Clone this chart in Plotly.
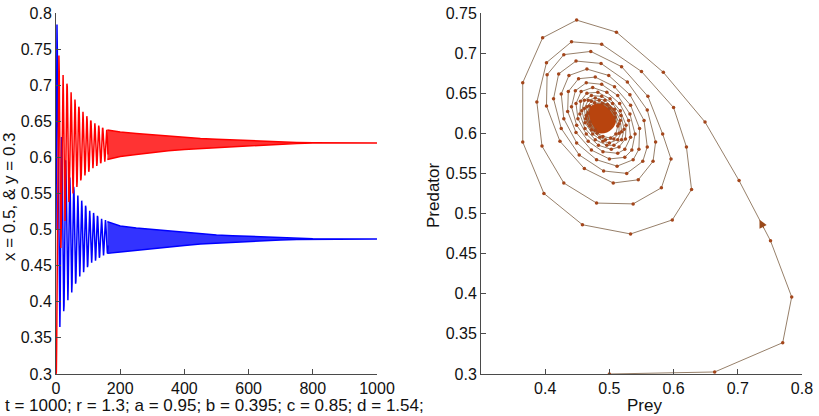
import plotly.graph_objects as go

# ---- phase trajectory (prey x, predator y) read /, t = 0 .. 162 ----
prey = [
    0.500, 0.664, 0.770, 0.784, 0.751, 0.702, 0.649, 0.584, 0.511, 0.449, 0.396, 0.365, 0.365, 0.398, 0.458, 0.533, 0.598, 0.628, 0.620,
    0.600, 0.550, 0.488, 0.441, 0.402, 0.387, 0.395, 0.429, 0.480, 0.537, 0.581, 0.596,
    0.583, 0.560, 0.519, 0.471, 0.429, 0.403, 0.402, 0.423, 0.461, 0.506, 0.545, 0.568,
    0.572, 0.559, 0.528, 0.487, 0.448, 0.421, 0.413, 0.425, 0.453, 0.491, 0.527, 0.552,
    0.559, 0.554, 0.532, 0.499, 0.465, 0.437, 0.425, 0.429, 0.449, 0.480, 0.512, 0.537,
    0.546, 0.547, 0.533, 0.508, 0.478, 0.452, 0.436, 0.435, 0.448, 0.472, 0.500, 0.524,
    0.535, 0.540, 0.532, 0.513, 0.488, 0.464, 0.447, 0.441, 0.449, 0.467, 0.490, 0.513,
    0.524, 0.533, 0.530, 0.516, 0.496, 0.474, 0.456, 0.448, 0.451, 0.464, 0.483, 0.503,
    0.515, 0.525, 0.526, 0.517, 0.501, 0.482, 0.465, 0.455, 0.454, 0.462, 0.478, 0.496,
    0.507, 0.519, 0.523, 0.518, 0.505, 0.488, 0.472, 0.461, 0.457, 0.462, 0.474, 0.490,
    0.500, 0.513, 0.519, 0.517, 0.508, 0.493, 0.478, 0.467, 0.461, 0.463, 0.472, 0.485,
    0.494, 0.507, 0.515, 0.515, 0.509, 0.497, 0.484, 0.472, 0.465, 0.464, 0.470, 0.481,
    0.490, 0.502, 0.510, 0.513, 0.509, 0.500, 0.489, 0.477, 0.469, 0.467, 0.470, 0.478,
]
predator = [
    0.300, 0.3025, 0.339, 0.396, 0.466, 0.541, 0.614, 0.676, 0.726, 0.741, 0.719, 0.663, 0.589, 0.525, 0.486, 0.4745, 0.492, 0.530, 0.583,
    0.632, 0.677, 0.711, 0.714, 0.688, 0.639, 0.584, 0.538, 0.513, 0.512, 0.532, 0.568,
    0.599, 0.646, 0.683, 0.702, 0.698, 0.673, 0.634, 0.590, 0.556, 0.538, 0.542, 0.565,
    0.589, 0.629, 0.664, 0.687, 0.690, 0.674, 0.643, 0.606, 0.573, 0.553, 0.550, 0.565,
    0.583, 0.616, 0.648, 0.672, 0.680, 0.672, 0.649, 0.618, 0.588, 0.567, 0.559, 0.567,
    0.580, 0.606, 0.635, 0.658, 0.670, 0.668, 0.652, 0.627, 0.601, 0.579, 0.568, 0.570,
    0.579, 0.599, 0.624, 0.647, 0.661, 0.663, 0.653, 0.633, 0.610, 0.590, 0.577, 0.575,
    0.580, 0.595, 0.616, 0.637, 0.651, 0.657, 0.652, 0.637, 0.618, 0.599, 0.585, 0.580,
    0.583, 0.593, 0.610, 0.628, 0.643, 0.651, 0.650, 0.640, 0.624, 0.606, 0.592, 0.585,
    0.585, 0.592, 0.605, 0.622, 0.637, 0.646, 0.647, 0.641, 0.628, 0.613, 0.599, 0.590,
    0.588, 0.592, 0.602, 0.616, 0.630, 0.641, 0.644, 0.641, 0.631, 0.618, 0.604, 0.595,
    0.592, 0.593, 0.600, 0.612, 0.625, 0.636, 0.641, 0.640, 0.633, 0.622, 0.610, 0.600,
    0.596, 0.594, 0.599, 0.609, 0.620, 0.631, 0.637, 0.638, 0.634, 0.625, 0.614, 0.604,
]
steps = list(range(len(prey)))

# ---- oscillation envelopes (t >= 160) ----
env_t = [160, 200, 250, 300, 350, 400, 450, 500, 550, 600, 650, 700, 750, 800, 1000]
red_hi = [0.638, 0.635, 0.633, 0.631, 0.629, 0.627, 0.626, 0.625, 0.624, 0.623, 0.622, 0.621, 0.6207, 0.6203, 0.620]
red_lo = [0.597, 0.601, 0.604, 0.607, 0.609, 0.611, 0.613, 0.614, 0.615, 0.616, 0.617, 0.618, 0.6192, 0.6197, 0.620]
blue_hi = [0.511, 0.505, 0.502, 0.500, 0.498, 0.496, 0.494, 0.4925, 0.4915, 0.4905, 0.4895, 0.4885, 0.4878, 0.4873, 0.487]
blue_lo = [0.467, 0.469, 0.472, 0.474, 0.476, 0.478, 0.480, 0.4815, 0.4825, 0.4835, 0.4845, 0.4855, 0.4862, 0.4867, 0.487]

# equilibrium the spiral settles into
prey_eq = [0.487]
pred_eq = [0.619]

left_xticks = [0, 200, 400, 600, 800, 1000]
right_xticks = [0.4, 0.5, 0.6, 0.7, 0.8]

RED = "#ff0000"
BLUE = "#0000ff"
LINE_BROWN = "#97806a"
DOT_BROWN = "#a4461b"
BLOB = "#b8440e"
FONT = "Liberation Sans, Arial, sans-serif"

fig = go.Figure()

# left panel: blue (prey) first, red (predator) on top
fig.add_trace(go.Scatter(x=env_t + env_t[::-1], y=blue_hi + blue_lo[::-1], fill="toself",
                         fillcolor="rgba(0,0,255,0.8)", line=dict(color=BLUE, width=1.5), mode="lines",
                         xaxis="x", yaxis="y", hoverinfo="skip"))
fig.add_trace(go.Scatter(x=steps, y=prey, mode="lines", line=dict(color=BLUE, width=1.5),
                         xaxis="x", yaxis="y"))
fig.add_trace(go.Scatter(x=env_t + env_t[::-1], y=red_hi + red_lo[::-1], fill="toself",
                         fillcolor="rgba(255,0,0,0.8)", line=dict(color=RED, width=1.5), mode="lines",
                         xaxis="x", yaxis="y", hoverinfo="skip"))
fig.add_trace(go.Scatter(x=steps, y=predator, mode="lines", line=dict(color=RED, width=1.5),
                         xaxis="x", yaxis="y"))

# right panel: phase portrait
fig.add_trace(go.Scatter(x=prey_eq, y=pred_eq, mode="markers",
                         marker=dict(color=BLOB, size=31, line=dict(width=0)),
                         xaxis="x2", yaxis="y2"))
fig.add_trace(go.Scatter(x=prey, y=predator, mode="lines+markers",
                         line=dict(color=LINE_BROWN, width=1),
                         marker=dict(color=DOT_BROWN, size=3.5, line=dict(width=0)),
                         xaxis="x2", yaxis="y2"))

# direction arrow on the trajectory (between steps 4 and 5)
ax_x = prey[4] + 0.35 * (prey[5] - prey[4])
ax_y = predator[4] + 0.35 * (predator[5] - predator[4])
fig.add_annotation(x=ax_x, y=ax_y, xref="x2", yref="y2", showarrow=True, arrowhead=2,
                   arrowsize=1.6, arrowwidth=1, arrowcolor="#9a4a1a", ax=5, ay=10, text="")

axis_common = dict(showline=True, linecolor="#4a4a4a", linewidth=1, ticks="inside", ticklen=5,
                   tickcolor="#4a4a4a", showgrid=False, zeroline=False, mirror=False, automargin=False,
                   tickfont=dict(family=FONT, size=16, color="#111111"))

y_dom = [0.101, 0.969]
fig.update_layout(
    width=819, height=416, margin=dict(l=0, r=0, t=0, b=0, autoexpand=False),
    paper_bgcolor="white", plot_bgcolor="white", showlegend=False,
    xaxis=dict(domain=[0.0684, 0.4603], range=[0, 1000], tickvals=left_xticks, anchor="y", **axis_common),
    yaxis=dict(domain=y_dom, range=[0.3, 0.8], dtick=0.05, tick0=0.3, anchor="x", **axis_common),
    xaxis2=dict(domain=[0.5873, 0.9792], range=[0.3, 0.8], tickvals=right_xticks, anchor="y2", **axis_common),
    yaxis2=dict(domain=y_dom, range=[0.3, 0.75], dtick=0.05, tick0=0.3, anchor="x2", **axis_common),
)

label_font = dict(family=FONT, size=17, color="#111111")
fig.add_annotation(text="t = 1000; r = 1.3; a = 0.95; b = 0.395; c = 0.85; d = 1.54;",
                   x=214 / 819, y=(416 - 405) / 416, xref="paper", yref="paper",
                   showarrow=False, font=label_font, xanchor="center", yanchor="middle")
fig.add_annotation(text="Prey", x=644 / 819, y=(416 - 405) / 416, xref="paper", yref="paper",
                   showarrow=False, font=label_font, xanchor="center", yanchor="middle")
fig.add_annotation(text="Predator", x=433 / 819, y=(416 - 195) / 416, xref="paper", yref="paper",
                   showarrow=False, font=label_font, textangle=-90, xanchor="center", yanchor="middle")
fig.add_annotation(text="x = 0.5, & y = 0.3", x=9 / 819, y=(416 - 197) / 416, xref="paper", yref="paper",
                   showarrow=False, font=label_font, textangle=-90, xanchor="center", yanchor="middle")

fig.write_html("out.html")
